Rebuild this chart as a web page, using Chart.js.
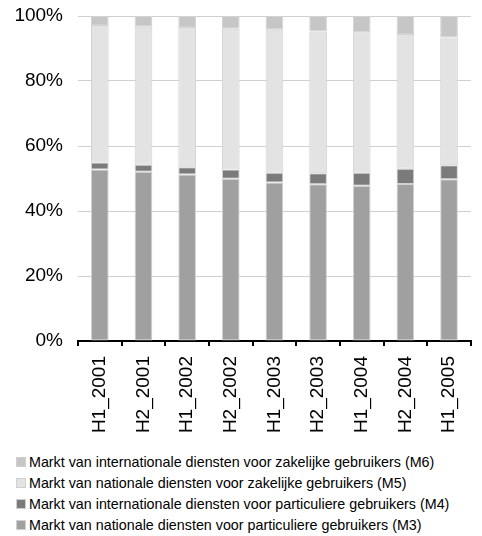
<!DOCTYPE html>
<html>
<head>
<meta charset="utf-8">
<script src="https://cdn.jsdelivr.net/npm/chart.js@4"></script>
<style>
  html, body { margin: 0; padding: 0; background: #fff; }
  #wrap { position: relative; width: 482px; height: 536px; }
  #c { position: absolute; left: 0; top: 0; }
  #legend { position: absolute; left: 16px; top: 451px; font: 14.3px "Liberation Sans", Arial, sans-serif; color: #000; }
  .item { height: 21px; display: flex; align-items: center; white-space: nowrap; }
  .box { width: 10px; height: 10px; box-sizing: border-box; border: 1px solid #d0d0d0; margin-right: 3px; flex: none; }
</style>
</head>
<body>
<div id="wrap">
  <canvas id="c" width="482" height="446"></canvas>
  <div id="legend"></div>
</div>
<script>
// Half-year periods on the category axis
const periods = ['H1_2001', 'H2_2001', 'H1_2002', 'H2_2002', 'H1_2003', 'H2_2003', 'H1_2004', 'H2_2004', 'H1_2005'];

// Market shares in percent, per period (stacked to 100%)
const m3National = [52.8, 52.1, 51.2, 49.9, 48.8, 48.2, 47.8, 48.3, 49.8];
const m4International = [2.1, 2.1, 2.3, 2.9, 3.0, 3.4, 4.0, 4.7, 4.3];
const m5NationalBusiness = [42.3, 42.5, 43.1, 43.3, 44.0, 43.6, 43.2, 41.5, 39.3];
const m6InternationalBusiness = [2.8, 3.3, 3.4, 3.9, 4.2, 4.8, 5.0, 5.5, 6.6];

// Value axis ticks
const yTicks = [0, 20, 40, 60, 80, 100];

const seriesLabels = [
  'Markt van nationale diensten voor particuliere gebruikers (M3)',
  'Markt van internationale diensten voor particuliere gebruikers (M4)',
  'Markt van nationale diensten voor zakelijke gebruikers (M5)',
  'Markt van internationale diensten voor zakelijke gebruikers (M6)'
];
const seriesValues = [m3National, m4International, m5NationalBusiness, m6InternationalBusiness];
const seriesColors = ['#a0a0a0', '#7b7b7b', '#e3e3e3', '#c6c6c6'];

const FONT = '"Liberation Sans", Arial, sans-serif';

const datasets = seriesLabels.map((label, i) => ({
  label,
  data: seriesValues[i],
  backgroundColor: seriesColors[i],
  borderColor: '#d2d2d2',
  borderWidth: 1,
  borderSkipped: false,
  barPercentage: 0.405,
  categoryPercentage: 1
}));

const chart = new Chart(document.getElementById('c'), {
  type: 'bar',
  data: { labels: periods, datasets },
  options: {
    responsive: false,
    animation: false,
    devicePixelRatio: 1,
    layout: { padding: { top: 16, right: 3, left: 0, bottom: 0 } },
    plugins: { legend: { display: false }, tooltip: { enabled: false } },
    scales: {
      x: {
        stacked: true,
        afterFit(scale) { scale.height = 105; },
        border: { display: true, color: '#000', width: 2 },
        grid: { offset: true, drawOnChartArea: false, drawTicks: true, tickLength: 5, color: '#000', lineWidth: 2 },
        ticks: {
          autoSkip: false, minRotation: 90, maxRotation: 90, padding: 10,
          color: '#000', font: { family: FONT, size: 19 }
        }
      },
      y: {
        stacked: true,
        min: 0,
        max: 100,
        afterFit(scale) { scale.width = 78; },
        afterBuildTicks(scale) { scale.ticks = yTicks.map(v => ({ value: v })); },
        border: { display: false },
        // invisible tick marks keep the labels clear of the plot
        grid: { color: '#d0d0d0', lineWidth: 1, drawTicks: true, tickLength: 15, tickColor: 'rgba(0,0,0,0)' },
        ticks: {
          padding: 0, color: '#000', font: { family: FONT, size: 19 },
          callback: v => v + '%'
        }
      }
    }
  }
});

// Legend, top series first
const legend = document.getElementById('legend');
chart.data.datasets.slice().reverse().forEach(ds => {
  const item = document.createElement('div');
  item.className = 'item';
  const box = document.createElement('span');
  box.className = 'box';
  box.style.background = ds.backgroundColor;
  const text = document.createElement('span');
  text.textContent = ds.label;
  item.appendChild(box);
  item.appendChild(text);
  legend.appendChild(item);
});
</script>
</body>
</html>
